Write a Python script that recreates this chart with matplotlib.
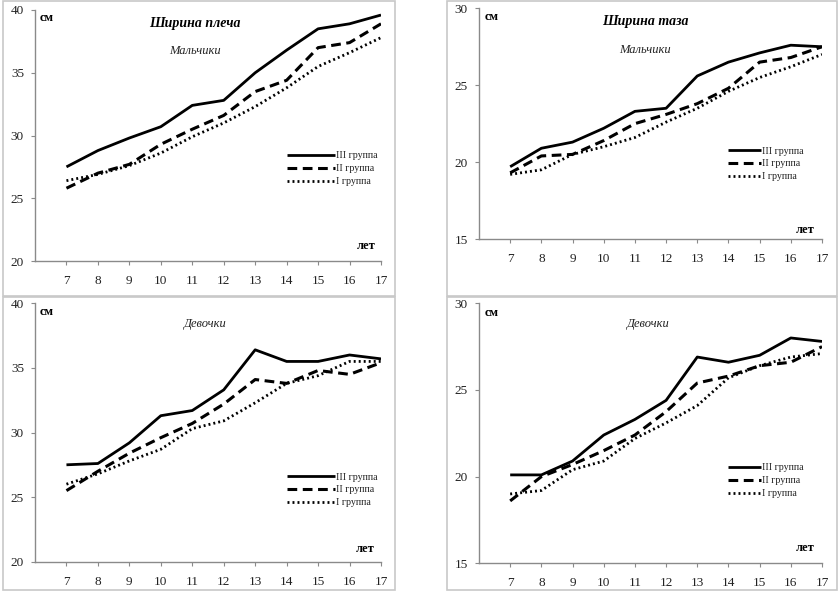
import matplotlib
matplotlib.use("Agg")
import matplotlib.pyplot as plt
from matplotlib.patches import Rectangle

plt.rcParams['font.family'] = ['Liberation Serif', 'DejaVu Serif']
plt.rcParams['lines.scale_dashes'] = False

ages = [7, 8, 9, 10, 11, 12, 13, 14, 15, 16, 17]
groups = ["III группа", "II группа", "I группа"]

# Ширина плеча, мальчики
sh_boys_III = [27.5, 28.8, 29.8, 30.7, 32.4, 32.8, 35.0, 36.8, 38.5, 38.9, 39.6]
sh_boys_II = [25.8, 27.0, 27.7, 29.3, 30.5, 31.6, 33.5, 34.4, 37.0, 37.4, 38.9]
sh_boys_I = [26.4, 26.9, 27.6, 28.6, 29.9, 31.0, 32.3, 33.8, 35.5, 36.6, 37.8]
# Ширина таза, мальчики
pv_boys_III = [19.7, 20.9, 21.3, 22.2, 23.3, 23.5, 25.6, 26.5, 27.1, 27.6, 27.5]
pv_boys_II = [19.3, 20.4, 20.5, 21.4, 22.5, 23.1, 23.8, 24.8, 26.5, 26.8, 27.5]
pv_boys_I = [19.2, 19.5, 20.5, 21.0, 21.6, 22.6, 23.5, 24.6, 25.5, 26.2, 27.0]
# Ширина плеча, девочки
sh_girls_III = [27.5, 27.6, 29.2, 31.3, 31.7, 33.3, 36.4, 35.5, 35.5, 36.0, 35.7]
sh_girls_II = [25.5, 27.0, 28.4, 29.6, 30.7, 32.2, 34.1, 33.8, 34.8, 34.5, 35.4]
sh_girls_I = [26.0, 26.8, 27.8, 28.7, 30.3, 30.9, 32.3, 33.8, 34.4, 35.5, 35.5]
# Ширина таза, девочки
pv_girls_III = [20.1, 20.1, 20.9, 22.4, 23.3, 24.4, 26.9, 26.6, 27.0, 28.0, 27.8]
pv_girls_II = [18.6, 20.0, 20.7, 21.5, 22.4, 23.75, 25.4, 25.8, 26.4, 26.6, 27.5]
pv_girls_I = [19.0, 19.2, 20.4, 20.9, 22.2, 23.1, 24.1, 25.7, 26.4, 26.9, 27.1]

W, H = 839, 601
fig = plt.figure(figsize=(W / 100, H / 100), dpi=100)

def px_axes(l, t, r, b):
    return fig.add_axes([l / W, 1 - b / H, (r - l) / W, (b - t) / H])

# panel borders
for (l, t, r, b) in [(3, 1, 395, 296), (447, 1, 837, 296), (3, 297, 395, 590), (447, 297, 837, 590)]:
    fig.patches.append(Rectangle((l / W, 1 - b / H), (r - l) / W, (b - t) / H,
                                 transform=fig.transFigure, fill=False,
                                 edgecolor='#c8c8c8', linewidth=1.2))

styles = [dict(linestyle='-', linewidth=2.0),
          dict(linestyle=(0, (7, 4)), linewidth=2.2),
          dict(linestyle=(0, (1.4, 2.2)), linewidth=2.0)]

panels = [
    dict(box=(35, 10, 381, 261), ylim=(20, 40), yt=[20, 25, 30, 35, 40],
         data=[sh_boys_III, sh_boys_II, sh_boys_I], title="Ширина плеча", sub="Мальчики",
         title_xy=(195, 23), sub_xy=(195, 51), cm_xy=(40, 18), let_xy=(357, 246),
         leg=(287, 151.5), hl=4.8),
    dict(box=(479, 8.3, 822, 239), ylim=(15, 30), yt=[15, 20, 25, 30],
         data=[pv_boys_III, pv_boys_II, pv_boys_I], title="Ширина таза", sub="Мальчики",
         title_xy=(645, 21), sub_xy=(645, 50), cm_xy=(485, 17), let_xy=(796, 230),
         leg=(728, 146.5), hl=3.3),
    dict(box=(35, 303.3, 381, 561.7), ylim=(20, 40), yt=[20, 25, 30, 35, 40],
         data=[sh_girls_III, sh_girls_II, sh_girls_I], title=None, sub="Девочки",
         title_xy=None, sub_xy=(205, 324), cm_xy=(40, 312), let_xy=(356, 549),
         leg=(287, 472.5), hl=4.8),
    dict(box=(479, 303.3, 822, 563.3), ylim=(15, 30), yt=[15, 20, 25, 30],
         data=[pv_girls_III, pv_girls_II, pv_girls_I], title=None, sub="Девочки",
         title_xy=None, sub_xy=(648, 324), cm_xy=(485, 313), let_xy=(796, 548),
         leg=(728, 463.5), hl=3.3),
]

def ftext(xy, s, **kw):
    fig.text(xy[0] / W, 1 - xy[1] / H, s, **kw)

for p in panels:
    ax = px_axes(*p['box'])
    for series, lab, st in zip(p['data'], groups, styles):
        ax.plot(ages, series, color='black', label=lab, solid_capstyle='butt',
                dash_capstyle='butt', **st)
    ax.set_xlim(6, 17)
    ax.set_ylim(*p['ylim'])
    ax.set_xticks(ages)
    ax.set_yticks(p['yt'])
    for s in ['top', 'right']:
        ax.spines[s].set_visible(False)
    for s in ['left', 'bottom']:
        ax.spines[s].set_color('#8a8a8a')
        ax.spines[s].set_linewidth(1.0)
    ax.tick_params(axis='x', direction='out', length=3, width=0.8, color='#8a8a8a',
                   pad=7, labelsize=9.5, labelcolor='#222222')
    ax.tick_params(axis='y', direction='out', length=3, width=0.8, color='#8a8a8a',
                   pad=5, labelsize=9.5, labelcolor='#222222')
    ax.patch.set_alpha(0)
    for sp in ax.spines.values():
        sp.set_clip_on(False)
    leg = ax.legend(loc='upper left', bbox_to_anchor=(p['leg'][0] / W, 1 - p['leg'][1] / H),
                    bbox_transform=fig.transFigure, frameon=False, fontsize=7.2,
                    handlelength=p['hl'], handletextpad=0.15, labelspacing=0.38,
                    borderpad=0, borderaxespad=0)
    for t in leg.get_texts():
        t.set_color('#222222')
    if p['title']:
        ftext(p['title_xy'], p['title'], fontsize=10, fontweight='bold', fontstyle='italic',
              ha='center', va='center')
    ftext(p['sub_xy'], p['sub'], fontsize=9, fontstyle='italic', ha='center', va='center',
          color='#222222')
    ftext(p['cm_xy'], "см", fontsize=9, fontweight='bold', ha='left', va='center')
    ftext(p['let_xy'], "лет", fontsize=9, fontweight='bold', ha='left', va='center')

fig.savefig("out.png", dpi=100, facecolor='white')
